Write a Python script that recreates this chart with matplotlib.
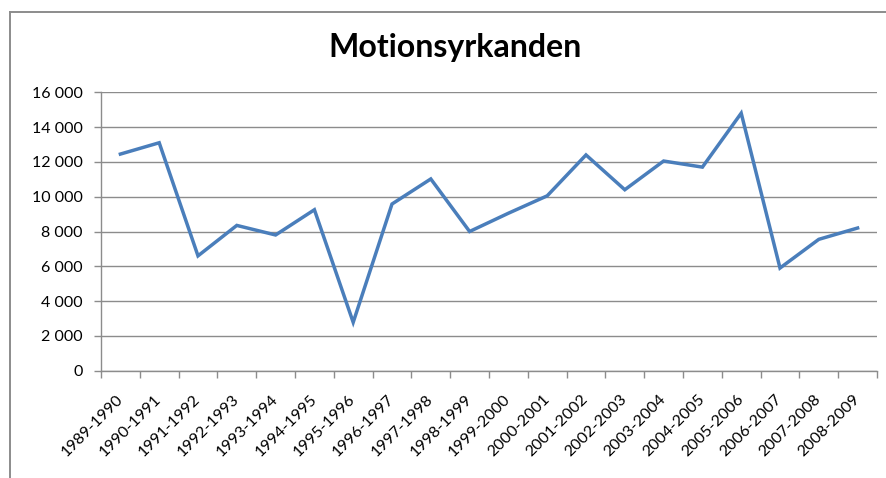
import matplotlib
matplotlib.use("Agg")
import matplotlib.pyplot as plt
from matplotlib.lines import Line2D
from matplotlib.ticker import FuncFormatter

# data
seasons = ["1989-1990", "1990-1991", "1991-1992", "1992-1993", "1993-1994",
           "1994-1995", "1995-1996", "1996-1997", "1997-1998", "1998-1999",
           "1999-2000", "2000-2001", "2001-2002", "2002-2003", "2003-2004",
           "2004-2005", "2005-2006", "2006-2007", "2007-2008", "2008-2009"]
motions = [12450, 13100, 6600, 8350, 7800, 9250, 2780, 9580, 11020, 8000,
           9050, 10050, 12400, 10400, 12050, 11700, 14800, 5900, 7550, 8200]

plt.rcParams["font.family"] = ["Lato", "DejaVu Sans"]

fig = plt.figure(figsize=(8.86, 4.78), dpi=100)
ax = fig.add_axes([101 / 886, 1 - 370.7 / 478, (877 - 101) / 886, (370.7 - 92.3) / 478])

x = list(range(len(seasons)))
ax.plot(x, motions, color="#4A7EBB", linewidth=2.5, solid_joinstyle="miter")

ax.set_xlim(-0.5, len(seasons) - 0.5)
ax.set_ylim(0, 16000)
ax.set_yticks(range(0, 16001, 2000))
ax.yaxis.set_major_formatter(FuncFormatter(lambda v, p: f"{int(v):,}".replace(",", " ")))
ax.grid(axis="y", color="#8C8C8C", linewidth=1.0)
ax.set_axisbelow(True)

# tick marks between categories, labels at centres
ax.set_xticks([i - 0.5 for i in range(len(seasons) + 1)])
ax.set_xticklabels([])
ax.set_xticks(x, minor=True)
ax.set_xticklabels(seasons, minor=True, rotation=45, ha="right", va="center",
                   rotation_mode="anchor", fontsize=11.5)
ax.tick_params(axis="x", which="major", length=5, color="#8C8C8C", width=1)
ax.tick_params(axis="x", which="minor", length=0, pad=19)
ax.tick_params(axis="y", length=5, color="#8C8C8C", width=1, pad=8, labelsize=11.5)

for s in ["top", "right"]:
    ax.spines[s].set_visible(False)
for s in ["left", "bottom"]:
    ax.spines[s].set_color("#8C8C8C")
    ax.spines[s].set_linewidth(1)

fig.text(455 / 886, 1 - 47 / 478, "Motionsyrkanden", ha="center", va="center",
         fontsize=23, fontweight="bold")

# outer chart frame (cut off at right and bottom)
fig.add_artist(Line2D([10 / 886, 1], [1 - 12 / 478] * 2, transform=fig.transFigure,
                      color="#8C8C8C", linewidth=1.4))
fig.add_artist(Line2D([10 / 886] * 2, [0, 1 - 12 / 478], transform=fig.transFigure,
                      color="#8C8C8C", linewidth=1.4))

fig.savefig("out.png", dpi=100)
